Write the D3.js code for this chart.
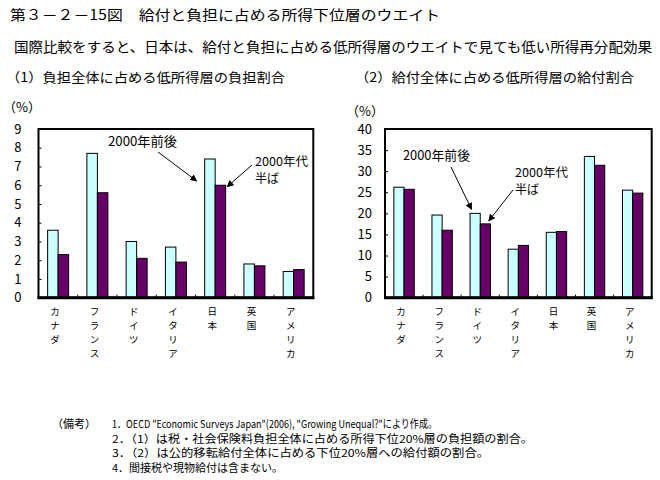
<!DOCTYPE html>
<html>
<head>
<meta charset="utf-8">
<script src="https://cdn.jsdelivr.net/npm/d3@7"></script>
<style>
  html, body { margin: 0; padding: 0; background: #fff; }
  svg { display: block; font-family: "Noto Sans CJK JP", "Noto Sans", sans-serif; }
</style>
</head>
<body>
<svg id="chart" width="660" height="480"></svg>
<script>
// ---- data ----
const categories = ["カナダ", "フランス", "ドイツ", "イタリア", "日本", "英国", "アメリカ"];
const seriesNames = ["2000年前後", "2000年代半ば"];
const burden2000 = [3.6, 7.7, 3.0, 2.7, 7.4, 1.8, 1.4];
const burdenMid = [2.3, 5.6, 2.1, 1.9, 6.0, 1.7, 1.5];
const benefit2000 = [26.2, 19.6, 20.0, 11.5, 15.5, 33.5, 25.5];
const benefitMid = [25.7, 16.0, 17.5, 12.4, 15.7, 31.4, 24.8];
const burdenTicks = [0, 1, 2, 3, 4, 5, 6, 7, 8, 9];
const benefitTicks = [0, 5, 10, 15, 20, 25, 30, 35, 40];
const seriesColors = ["#CCFFFF", "#660066"];

const titleText = "第３－２－15図　給付と負担に占める所得下位層のウエイト";
const subtitleText = "国際比較をすると、日本は、給付と負担に占める低所得層のウエイトで見ても低い所得再分配効果";
const panelTitles = ["（1）負担全体に占める低所得層の負担割合", "（2）給付全体に占める低所得層の給付割合"];
const notesLabel = "（備考）";
const notes = [
  "1．OECD \"Economic Surveys Japan\"(2006), \"Growing Unequal?\"により作成。",
  "2．（1）は税・社会保険料負担全体に占める所得下位20%層の負担額の割合。",
  "3．（2）は公的移転給付全体に占める下位20%層への給付額の割合。",
  "4．間接税や現物給付は含まない。"
];

const svg = d3.select("#chart");

// ---- headings ----
svg.append("text").attr("x", 10).attr("y", 20).attr("font-size", 14)
  .attr("textLength", 430).attr("lengthAdjust", "spacingAndGlyphs").text(titleText);
svg.append("text").attr("x", 14).attr("y", 52).attr("font-size", 14)
  .attr("textLength", 638).attr("lengthAdjust", "spacingAndGlyphs").text(subtitleText);
svg.append("text").attr("x", 6).attr("y", 82).attr("font-size", 13)
  .attr("textLength", 279).attr("lengthAdjust", "spacingAndGlyphs").text(panelTitles[0]);
svg.append("text").attr("x", 355).attr("y", 82).attr("font-size", 13)
  .attr("textLength", 279).attr("lengthAdjust", "spacingAndGlyphs").text(panelTitles[1]);

function drawPanel(cfg) {
  const g = svg.append("g");
  const x = d3.scaleBand().domain(categories).range([cfg.x0, cfg.x1]).padding(0);
  const xs = d3.scaleBand().domain(seriesNames).range([0, x.bandwidth()])
    .paddingInner(0).paddingOuter(0.87);
  const y = d3.scaleLinear().domain([0, cfg.max]).range([cfg.yb, cfg.yt]);

  // bars
  const rows = categories.map((c, i) => ({ c, vals: [cfg.a[i], cfg.b[i]] }));
  const cg = g.selectAll("g.cat").data(rows).join("g")
    .attr("transform", d => `translate(${x(d.c)},0)`);
  cg.selectAll("rect").data(d => d.vals.map((v, k) => ({ v, k })))
    .join("rect")
    .attr("x", d => xs(seriesNames[d.k]))
    .attr("width", xs.bandwidth())
    .attr("y", d => y(d.v))
    .attr("height", d => y(0) - y(d.v))
    .attr("fill", d => seriesColors[d.k])
    .attr("stroke", "#000").attr("stroke-width", 1);

  // y axis (labels + inner ticks)
  const ax = g.append("g").attr("transform", `translate(${cfg.x0},0)`)
    .call(d3.axisLeft(y).tickValues(cfg.ticks).tickSizeInner(-3).tickSizeOuter(0).tickPadding(cfg.pad));
  ax.select(".domain").remove();
  ax.selectAll("text").attr("font-size", 13).attr("fill", "#000")
    .attr("font-family", "\"Noto Sans CJK JP\", sans-serif");
  ax.selectAll("line").attr("stroke", "#000");

  // bottom category separator ticks
  g.selectAll("line.sep").data(categories.slice(1)).join("line")
    .attr("x1", d => x(d)).attr("x2", d => x(d))
    .attr("y1", cfg.yb).attr("y2", cfg.yb - 3)
    .attr("stroke", "#000");

  // frame
  g.append("rect").attr("x", cfg.x0).attr("y", cfg.yt)
    .attr("width", cfg.x1 - cfg.x0).attr("height", cfg.yb - cfg.yt)
    .attr("fill", "none").attr("stroke", "#000").attr("stroke-width", 2);
  g.append("line").attr("x1", cfg.x0 - 1).attr("x2", cfg.x1 + 1)
    .attr("y1", cfg.yb).attr("y2", cfg.yb)
    .attr("stroke", "#000").attr("stroke-width", 3);

  // (%)
  g.append("text").attr("x", cfg.pctX).attr("y", cfg.pctY).attr("font-size", 13).text("（%）");

  // category labels (vertical, one character per line)
  const lab = g.selectAll("text.cat").data(categories).join("text")
    .attr("font-size", 9.5).attr("text-anchor", "middle");
  lab.each(function (d) {
    const t = d3.select(this);
    Array.from(d).forEach((ch, i) => {
      t.append("tspan").attr("x", x(d) + x.bandwidth() / 2 - 3)
        .attr("y", 315 + i * 14).text(ch);
    });
  });

  // annotations
  const ann = cfg.ann;
  g.append("text").attr("x", ann.t1[0]).attr("y", ann.t1[1]).attr("font-size", 13)
    .attr("textLength", ann.w1).attr("lengthAdjust", "spacingAndGlyphs").text(seriesNames[0]);
  g.append("text").attr("x", ann.t2[0]).attr("y", ann.t2[1]).attr("font-size", 12)
    .attr("textLength", 53).attr("lengthAdjust", "spacingAndGlyphs").text("2000年代");
  g.append("text").attr("x", ann.t2[0]).attr("y", ann.t2[1] + 17.6).attr("font-size", 12).text("半ば");
  const tc = ann.cat;
  const i = categories.indexOf(tc);
  const p1 = [x(tc) + xs(seriesNames[0]) + ann.d1[0], y(cfg.a[i]) + ann.d1[1]];
  const p2 = [x(tc) + xs(seriesNames[1]) + ann.d2[0], y(cfg.b[i]) + ann.d2[1]];
  g.append("line").attr("x1", ann.s1[0]).attr("y1", ann.s1[1])
    .attr("x2", p1[0]).attr("y2", p1[1]).attr("stroke", "#000").attr("marker-end", "url(#ah)");
  g.append("line").attr("x1", ann.s2[0]).attr("y1", ann.s2[1])
    .attr("x2", p2[0]).attr("y2", p2[1]).attr("stroke", "#000").attr("marker-end", "url(#ah)");
}

const defs = svg.append("defs");
defs.append("marker").attr("id", "ah").attr("viewBox", "0 0 10 10")
  .attr("refX", 9).attr("refY", 5).attr("markerWidth", 7).attr("markerHeight", 7)
  .attr("markerUnits", "userSpaceOnUse").attr("orient", "auto")
  .append("path").attr("d", "M0,0 L10,5 L0,10 Z").attr("fill", "#000");

drawPanel({
  x0: 38.5, x1: 313.3, yt: 129, yb: 297.7, max: 9, ticks: burdenTicks, pad: 17,
  a: burden2000, b: burdenMid, pctX: 3, pctY: 112,
  ann: { cat: "日本", t1: [108, 146], w1: 69, t2: [255, 165.5], s1: [158, 152], s2: [252, 165],
         d1: [-8, 22], d2: [12, 1.5] }
});
drawPanel({
  x0: 385, x1: 651.7, yt: 129, yb: 297.7, max: 40, ticks: benefitTicks, pad: 13,
  a: benefit2000, b: benefitMid, pctX: 346, pctY: 116,
  ann: { cat: "ドイツ", t1: [403, 160], w1: 67, t2: [515, 176.5], s1: [451, 167], s2: [513, 190],
         d1: [1.5, -4], d2: [8.5, -3] }
});

// ---- notes ----
svg.append("text").attr("x", 52).attr("y", 428).attr("font-size", 11).text(notesLabel);
const noteW = [325, 421, 377, null];
notes.forEach((n, k) => {
  const t = svg.append("text").attr("x", 112).attr("y", 428 + k * 14.5).attr("font-size", 11).text(n);
  if (noteW[k]) t.attr("textLength", noteW[k]).attr("lengthAdjust", "spacingAndGlyphs");
});
</script>
</body>
</html>
